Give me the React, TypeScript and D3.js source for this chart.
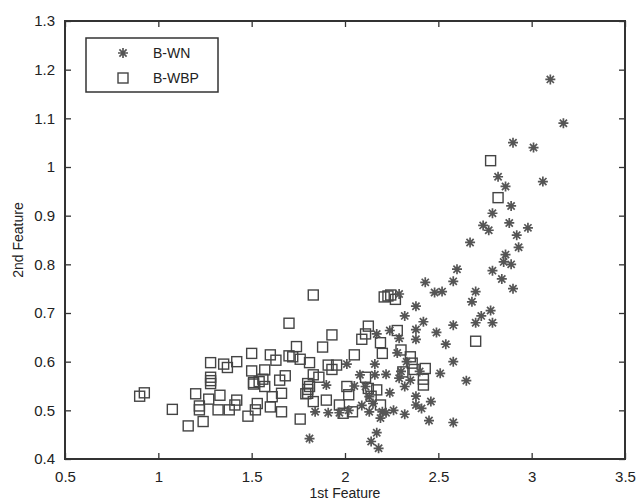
import { useEffect, useRef } from "react";
import * as d3 from "d3";

// B-WN samples (stars): [1st feature, 2nd feature]
const bwnPoints: [number, number][] = [
  [3.1, 1.18], [3.17, 1.09], [2.9, 1.05], [3.01, 1.04], [3.06, 0.97], [2.82, 0.98],
  [2.86, 0.96], [2.89, 0.92], [2.79, 0.905], [2.74, 0.88], [2.77, 0.87], [2.88, 0.885],
  [2.92, 0.86], [2.98, 0.875], [2.67, 0.845], [2.93, 0.835], [2.86, 0.82], [2.85, 0.805],
  [2.89, 0.8], [2.79, 0.787], [2.84, 0.77], [2.9, 0.75], [2.6, 0.79], [2.58, 0.765],
  [2.43, 0.763], [2.48, 0.742], [2.52, 0.744], [2.7, 0.744], [2.68, 0.723], [2.78, 0.705],
  [2.73, 0.694], [2.79, 0.68], [2.7, 0.68], [2.58, 0.675], [2.38, 0.714], [2.32, 0.694],
  [2.42, 0.682], [2.38, 0.666], [2.49, 0.66], [2.38, 0.646], [2.54, 0.636], [2.58, 0.6],
  [2.51, 0.576], [2.65, 0.561], [2.46, 0.518], [2.38, 0.529], [2.38, 0.511], [2.41, 0.504],
  [2.45, 0.479], [2.58, 0.475], [2.32, 0.492], [2.24, 0.536], [2.22, 0.574], [2.16, 0.595],
  [2.16, 0.573], [2.17, 0.657], [2.24, 0.664], [2.28, 0.618], [2.29, 0.566], [2.35, 0.562],
  [2.29, 0.648], [2.29, 0.739], [2.17, 0.454], [2.14, 0.436], [2.18, 0.422], [2.19, 0.484],
  [2.2, 0.497], [2.22, 0.495], [2.13, 0.497], [2.08, 0.573], [2.11, 0.549], [2.13, 0.528],
  [2.15, 0.514], [2.01, 0.595], [1.9, 0.552], [1.84, 0.497], [1.91, 0.495], [1.81, 0.442],
  [2.32, 0.549], [2.3, 0.58], [2.33, 0.6], [2.4, 0.58], [2.09, 0.51], [1.97, 0.495],
  [2.02, 0.5], [2.26, 0.5], [2.05, 0.55],
];

// B-WBP samples (squares)
const bwbpPoints: [number, number][] = [
  [0.9, 0.529], [0.925, 0.536], [1.075, 0.502], [1.16, 0.468], [1.24, 0.477], [1.22, 0.501],
  [1.22, 0.509], [1.2, 0.534], [1.28, 0.598], [1.28, 0.568], [1.28, 0.561], [1.28, 0.555],
  [1.27, 0.523], [1.32, 0.501], [1.33, 0.531], [1.35, 0.595], [1.37, 0.588], [1.42, 0.6],
  [1.38, 0.501], [1.42, 0.521], [1.41, 0.511], [1.48, 0.488], [1.5, 0.617], [1.5, 0.581],
  [1.51, 0.557], [1.51, 0.554], [1.52, 0.501], [1.53, 0.514], [1.54, 0.559], [1.56, 0.564],
  [1.57, 0.583], [1.57, 0.549], [1.6, 0.614], [1.63, 0.603], [1.61, 0.528], [1.6, 0.507],
  [1.66, 0.497], [1.66, 0.535], [1.65, 0.562], [1.68, 0.571], [1.7, 0.679], [1.7, 0.612],
  [1.72, 0.61], [1.74, 0.631], [1.76, 0.605], [1.76, 0.482], [1.81, 0.598], [1.83, 0.737],
  [1.8, 0.535], [1.81, 0.549], [1.83, 0.518], [1.83, 0.573], [2.21, 0.733], [2.23, 0.735],
  [2.245, 0.737], [2.27, 0.728], [1.93, 0.655], [1.88, 0.63], [2.125, 0.673], [2.11, 0.657],
  [2.09, 0.646], [2.28, 0.664], [2.19, 0.639], [2.2, 0.617], [2.3, 0.624], [2.05, 0.614],
  [1.91, 0.593], [1.955, 0.593], [1.93, 0.584], [2.36, 0.597], [2.37, 0.584], [2.43, 0.586],
  [2.31, 0.579], [2.42, 0.564], [2.42, 0.552], [1.86, 0.568], [1.8, 0.555], [1.8, 0.543],
  [1.79, 0.534], [1.9, 0.521], [2.01, 0.549], [2.02, 0.532], [1.97, 0.511], [1.99, 0.494],
  [2.04, 0.497], [2.11, 0.568], [2.125, 0.545], [2.14, 0.529], [2.17, 0.542], [2.19, 0.511],
  [2.7, 0.642], [2.78, 1.013], [2.82, 0.937], [2.35, 0.61],
];

const xTicks = [0.5, 1, 1.5, 2, 2.5, 3, 3.5];
const yTicks = [0.4, 0.5, 0.6, 0.7, 0.8, 0.9, 1, 1.1, 1.2, 1.3];
const legendLabels = ["B-WN", "B-WBP"];

const FONT = "'Liberation Sans', Arial, sans-serif";
const INK = "#333";

// MATLAB-style '*' marker: plus and cross
const starPath = (r: number) => {
  const d = r * 0.72;
  return `M${-r},0H${r}M0,${-r}V${r}M${-d},${-d}L${d},${d}M${-d},${d}L${d},${-d}`;
};

const App = () => {
  const svgRef = useRef<SVGSVGElement>(null);

  useEffect(() => {
    const margin = { top: 21, right: 12, bottom: 43, left: 65 };
    const W = 637;
    const H = 502;
    const width = W - margin.left - margin.right;
    const height = H - margin.top - margin.bottom;

    d3.select(svgRef.current).selectAll("*").remove();

    const root = d3.select(svgRef.current).attr("width", W).attr("height", H);
    const svg = root.append("g").attr("transform", `translate(${margin.left},${margin.top})`);

    const x = d3.scaleLinear().domain([0.5, 3.5]).range([0, width]);
    const y = d3.scaleLinear().domain([0.4, 1.3]).range([height, 0]);

    const styleAxis = (g: any, labels: boolean) => {
      g.select(".domain").remove();
      g.selectAll("line").attr("stroke", INK).attr("stroke-width", 1.3);
      g.selectAll("text")
        .attr("fill", "#222")
        .style("font-family", FONT)
        .style("font-size", "15px")
        .style("display", labels ? null : "none");
    };

    // bottom / top
    svg
      .append("g")
      .attr("transform", `translate(0,${height})`)
      .call(d3.axisBottom(x).tickValues(xTicks).tickSizeInner(-6).tickSizeOuter(0).tickPadding(12).tickFormat(d3.format("")))
      .call((g: any) => styleAxis(g, true));
    svg
      .append("g")
      .call(d3.axisTop(x).tickValues(xTicks).tickSizeInner(-6).tickSizeOuter(0))
      .call((g: any) => styleAxis(g, false));
    // left / right
    svg
      .append("g")
      .call(d3.axisLeft(y).tickValues(yTicks).tickSizeInner(-6).tickSizeOuter(0).tickPadding(10).tickFormat(d3.format("")))
      .call((g: any) => styleAxis(g, true));
    svg
      .append("g")
      .attr("transform", `translate(${width},0)`)
      .call(d3.axisRight(y).tickValues(yTicks).tickSizeInner(-6).tickSizeOuter(0))
      .call((g: any) => styleAxis(g, false));

    // box
    svg
      .append("rect")
      .attr("width", width)
      .attr("height", height)
      .attr("fill", "none")
      .attr("stroke", INK)
      .attr("stroke-width", 2);

    // squares
    const sq = 10;
    svg
      .append("g")
      .selectAll("rect")
      .data(bwbpPoints)
      .enter()
      .append("rect")
      .attr("x", (d) => x(d[0]) - sq / 2)
      .attr("y", (d) => y(d[1]) - sq / 2)
      .attr("width", sq)
      .attr("height", sq)
      .attr("fill", "none")
      .attr("stroke", "#444")
      .attr("stroke-width", 1.4);

    // stars
    svg
      .append("g")
      .selectAll("path")
      .data(bwnPoints)
      .enter()
      .append("path")
      .attr("transform", (d) => `translate(${x(d[0])},${y(d[1])})`)
      .attr("d", starPath(5))
      .attr("fill", "none")
      .attr("stroke", "#555")
      .attr("stroke-width", 1.7);

    // legend
    const lg = svg.append("g").attr("transform", `translate(${86 - margin.left},${38 - margin.top})`);
    lg.append("rect")
      .attr("width", 132)
      .attr("height", 54)
      .attr("fill", "#fff")
      .attr("stroke", INK)
      .attr("stroke-width", 1.5);
    legendLabels.forEach((label, i) => {
      const cy = 15 + i * 25;
      if (i === 0) {
        lg.append("path")
          .attr("transform", `translate(37,${cy})`)
          .attr("d", starPath(5))
          .attr("stroke", "#555")
          .attr("stroke-width", 1.7);
      } else {
        lg.append("rect")
          .attr("x", 37 - sq / 2)
          .attr("y", cy - sq / 2)
          .attr("width", sq)
          .attr("height", sq)
          .attr("fill", "none")
          .attr("stroke", "#444")
          .attr("stroke-width", 1.4);
      }
      lg.append("text")
        .attr("x", 67)
        .attr("y", cy + 5)
        .attr("fill", "#222")
        .style("font-family", FONT)
        .style("font-size", "14px")
        .text(label);
    });

    // axis titles
    root
      .append("text")
      .attr("x", margin.left + width / 2)
      .attr("y", H - 4)
      .attr("text-anchor", "middle")
      .attr("fill", "#222")
      .style("font-family", FONT)
      .style("font-size", "14px")
      .text("1st Feature");
    root
      .append("text")
      .attr("transform", `translate(23,${margin.top + height / 2}) rotate(-90)`)
      .attr("text-anchor", "middle")
      .attr("fill", "#222")
      .style("font-family", FONT)
      .style("font-size", "14px")
      .text("2nd Feature");
  }, []);

  return <svg ref={svgRef} style={{ position: "absolute", left: 0, top: 0 }}></svg>;
};

export default App;
